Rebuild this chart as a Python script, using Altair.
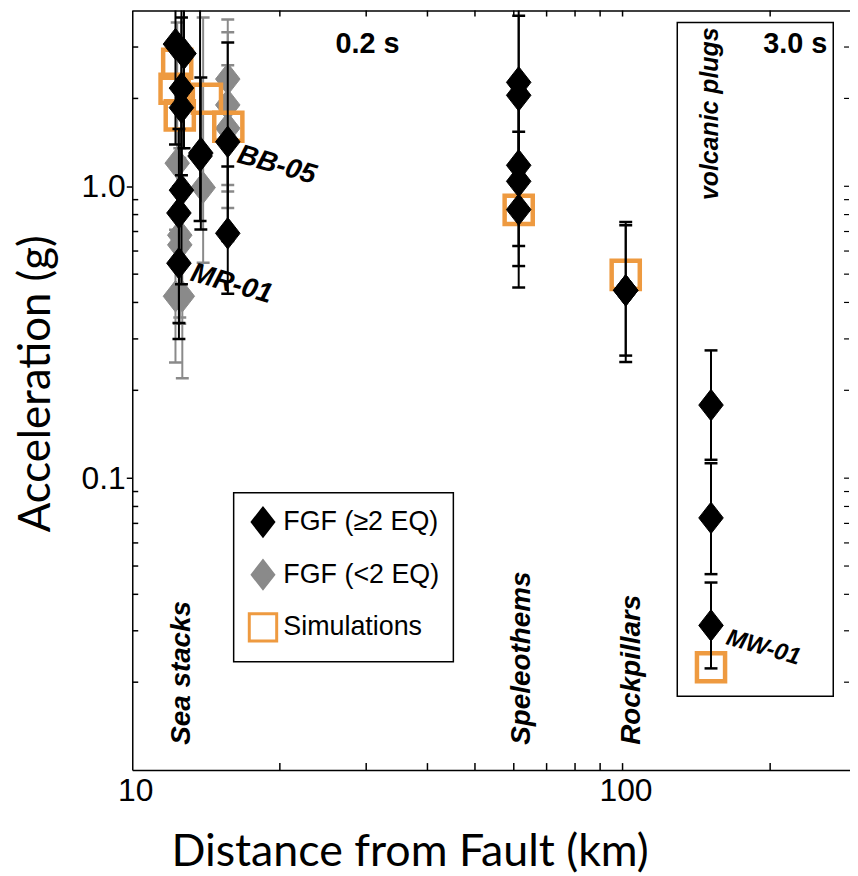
import altair as alt
import pandas as pd

# ---------------- data ----------------
# FGF (>=2 EQ): distance (km), acceleration (g), lower and upper error
black_x  = [12.25, 12.75, 12.6, 12.6, 12.6, 12.45, 12.45, 13.8, 13.75, 15.66, 15.66,
            61.4, 61.4, 61.4, 61.4, 61.4, 101.5, 101.5, 151.5, 151.5, 151.5]
black_y  = [3.07, 2.85, 2.17, 1.86, 0.97, 0.81, 0.545, 1.30, 1.27, 1.42, 0.69,
            2.27, 2.05, 1.18, 1.04, 0.832, 0.44, 0.44, 0.178, 0.0731, 0.0313]
black_lo = [1.39, 1.35, 1.09, 0.95, 0.462, 0.34, 0.30, 0.711, 0.76, 0.65, 0.428,
            1.22, 1.10, 0.624, 0.533, 0.45, 0.25, 0.263, 0.1156, 0.0469, 0.0223]
black_hi = [6.0, 6.0, 4.4, 3.79, 2.05, 1.57, 1.0, 2.36, 4.5, 3.11, 1.168,
            4.5, 3.84, 2.23, 2.03, 1.537, 0.755, 0.735, 0.274, 0.1125, 0.0439]

# FGF (<2 EQ)
gray_x  = [12.35, 12.5, 12.5, 12.25, 12.65, 13.95, 15.66, 15.66, 15.66]
gray_y  = [1.20, 0.68, 0.63, 0.42, 0.42, 0.99, 2.33, 1.90, 1.58]
gray_lo = [0.55, 0.355, 0.338, 0.249, 0.22, 0.547, 1.01, 0.842, 0.96]
gray_hi = [3.64, 1.35, 1.25, 0.71, 0.80, 3.79, 3.73, 3.37, 2.6]

# Simulations
sim_x = [12.35, 12.2, 12.5, 14.2, 15.7, 61.4, 101.5, 151.5]
sim_y = [2.63, 2.16, 1.75, 1.995, 1.60, 0.83, 0.497, 0.0225]

series_names = ["FGF (≥2 EQ)", "FGF (<2 EQ)", "Simulations"]

# annotations
lab_text  = ["0.2 s", "3.0 s", "volcanic plugs", "Sea stacks", "Speleothems", "Rockpillars",
             "BB-05", "MR-01", "MW-01"]
lab_x     = [30.2, 225.0, 150.5, 12.63, 62.4, 104.8, 16.44, 13.2, 163.3]
lab_y     = [3.06, 3.06, 3.5, 0.0122, 0.0122, 0.0122, 1.287, 0.506, 0.0285]
lab_kind  = ["period", "period", "cat_top", "cat", "cat", "cat", "site", "site", "site"]
lab_size  = [29, 29, 25, 28, 28, 28, 28, 28, 24]

# volcanic plugs box (km, g)
box_x = [129.3, 269.0]
box_y = [0.0179, 3.64]

# tick values
x_ticks_inner = [20, 30, 40, 50, 60, 70, 80, 90, 100, 200]
y_minor = [0.02, 0.03, 0.04, 0.05, 0.06, 0.07, 0.08, 0.09,
           0.2, 0.3, 0.4, 0.5, 0.6, 0.7, 0.8, 0.9, 2, 3]
y_major = [0.1, 1]

# ---------------- frames ----------------
W, H = 722, 764
XDOM = [10, 291]
YDOM = [0.01, 4]
ORANGE = "#EE9A40"
GRAY = "#8a8a8a"

black = pd.DataFrame({"x": black_x, "y": black_y, "lo": black_lo, "hi": black_hi,
                      "series": series_names[0]})
gray = pd.DataFrame({"x": gray_x, "y": gray_y, "lo": gray_lo, "hi": gray_hi,
                     "series": series_names[1]})
sim = pd.DataFrame({"x": sim_x, "y": sim_y, "series": series_names[2]})
labels = pd.DataFrame({"label": lab_text, "x": lab_x, "y": lab_y, "kind": lab_kind, "fs": lab_size})
box = pd.DataFrame({"x": [box_x[0]], "x2": [box_x[1]], "y": [box_y[0]], "y2": [box_y[1]]})
xt = pd.DataFrame({"x": x_ticks_inner})
ymin = pd.DataFrame({"y": y_minor})
yall = pd.DataFrame({"y": y_minor + y_major})
one = pd.DataFrame({"a": [0]})

xscale = alt.Scale(type="log", domain=XDOM, nice=False)
yscale = alt.Scale(type="log", domain=YDOM, nice=False)

xaxis = alt.Axis(values=[10, 100], format="d", ticks=False, tickSize=0, labelPadding=6,
                 labelFlush=False, labelOffset=3, labelFontSize=32, labelFont="Liberation Sans",
                 title="Distance from Fault (km)",
                 titleX=279, titleY=82, titleAlign="center", titleBaseline="middle",
                 titleFontSize=45, titleFont="Lato", titleFontWeight="normal", grid=False,
                 domainColor="black", domainWidth=1.5)
yaxis = alt.Axis(values=y_major, format=".1f", tickSize=6, tickWidth=1.5, tickColor="black",
                 labelPadding=1, labelFlush=False, labelFontSize=32, labelFont="Liberation Sans",
                 title="Acceleration (g)", titleX=-96, titleY=375, titleAlign="center",
                 titleBaseline="middle", titleAngle=270, titleFontSize=44, titleFont="Lato",
                 titleFontWeight="normal", grid=False, domainColor="black", domainWidth=1.5)

X = alt.X("x:Q", scale=xscale, axis=xaxis)
Y = alt.Y("y:Q", scale=yscale, axis=yaxis)

diamond = "M0,-1L0.78,0L0,1L-0.78,0Z"
leg = alt.Legend(title=None, orient="none", legendX=102, legendY=485, padding=14,
                 rowPadding=12, strokeColor="black", fillColor="white",
                 labelFont="Liberation Sans", labelFontSize=27, labelColor="black",
                 symbolSize=760, symbolStrokeWidth=3, labelOffset=5, cornerRadius=0)
shape_enc = alt.Shape("series:N", scale=alt.Scale(domain=series_names,
                      range=[diamond, diamond, "square"]), legend=leg)
fill_enc = alt.Fill("series:N", scale=alt.Scale(domain=series_names,
                    range=["black", GRAY, "transparent"]), legend=leg)
stroke_enc = alt.Stroke("series:N", scale=alt.Scale(domain=series_names,
                        range=["black", GRAY, ORANGE]), legend=leg)


def errbars(df, color):
    bars = alt.Chart(df).mark_rule(color=color, strokeWidth=2, clip=True).encode(
        x=X, y=alt.Y("lo:Q", scale=yscale, axis=yaxis), y2="hi:Q")
    caps = alt.Chart(df).transform_fold(["lo", "hi"], as_=["end", "yv"]).mark_tick(
        orient="horizontal", size=13, thickness=2.5, color=color, opacity=1, clip=True
    ).encode(x=X, y=alt.Y("yv:Q", scale=yscale, axis=yaxis))
    return bars + caps


def points(df, sw, size):
    return alt.Chart(df).mark_point(opacity=1, strokeWidth=sw, size=size).encode(
        x=X, y=Y, shape=shape_enc, fill=fill_enc, stroke=stroke_enc)


def texts(kind, angle, align, italic=True):
    kw = dict(angle=angle, align=align, baseline="middle", font="Liberation Sans",
              fontWeight="bold", color="black")
    if italic:
        kw["fontStyle"] = "italic"
    return alt.Chart(labels).transform_filter(alt.datum.kind == kind).mark_text(**kw).encode(
        x=X, y=Y, text="label:N", size=alt.Size("fs:Q", scale=None, legend=None))


box_layer = alt.Chart(box).mark_rect(fill="transparent", stroke="black", strokeWidth=1.5).encode(
    x=X, x2="x2:Q", y=Y, y2="y2:Q")

tick_bottom = alt.Chart(xt).mark_rule(color="black", strokeWidth=1.5).encode(
    x=X, y=alt.value(H), y2=alt.value(H - 7))
tick_top = alt.Chart(xt).mark_rule(color="black", strokeWidth=1.5).encode(
    x=X, y=alt.value(0), y2=alt.value(6))
tick_left = alt.Chart(ymin).mark_rule(color="black", strokeWidth=1.5).encode(
    y=Y, x=alt.value(0), x2=alt.value(6))
tick_right = alt.Chart(yall).mark_rule(color="black", strokeWidth=1.2).encode(
    y=Y, x=alt.value(W - 1), x2=alt.value(W - 6))
top_line = alt.Chart(one).mark_rule(color="black", strokeWidth=1.5).encode(
    x=alt.value(0), x2=alt.value(W), y=alt.value(0.5))

chart = alt.layer(
    box_layer,
    errbars(gray, GRAY),
    points(gray, 1, 1000),
    points(sim, 4.5, 800),
    errbars(black, "black"),
    points(black, 1, 1000),
    texts("period", 0, "center", italic=False),
    texts("cat", 270, "left"),
    texts("cat_top", 270, "right"),
    texts("site", 16, "left"),
    tick_bottom, tick_top, tick_left, tick_right, top_line,
).properties(
    width=W, height=H,
    autosize=alt.AutoSizeParams(type="none"),
    padding={"left": 125, "top": 0, "right": 0, "bottom": 104},
    background="white",
).configure_view(stroke=None).configure_legend(strokeWidth=1.5)

chart.save("out.html", embed_options={"renderer": "svg", "actions": False})
